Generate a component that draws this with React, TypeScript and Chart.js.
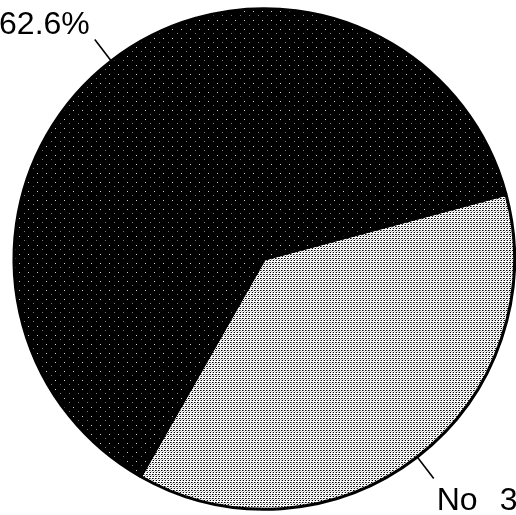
import React, { useEffect, useRef } from "react";
import { Chart, registerables } from "chart.js";

Chart.register(...registerables);

const categories = ["No", "Yes"];
const percentValues = [37.4, 62.6];
const sliceColors = ["#c4c4c4", "#080808"];

function makePattern(kind: "light" | "dark"): CanvasPattern | string {
  const c = document.createElement("canvas");
  const w = kind === "light" ? 3 : 9;
  const h = kind === "light" ? 4 : 9;
  c.width = w;
  c.height = h;
  const ctx = c.getContext("2d");
  if (!ctx) return kind === "light" ? sliceColors[0] : sliceColors[1];
  if (kind === "light") {
    ctx.fillStyle = "#ffffff";
    ctx.fillRect(0, 0, w, h);
    ctx.fillStyle = "#000000";
    ctx.fillRect(0, 0, 1, 1);
    ctx.fillRect(2, 2, 1, 1);
    ctx.fillStyle = "#bbbbbb";
    ctx.fillRect(2, 0, 1, 1);
    ctx.fillRect(1, 3, 1, 1);
    ctx.fillStyle = "#777777";
    ctx.fillRect(0, 2, 1, 1);
  } else {
    ctx.fillStyle = "#000000";
    ctx.fillRect(0, 0, w, h);
    ctx.fillStyle = "#cfcfcf";
    ctx.fillRect(1, 2, 1, 1);
    ctx.fillStyle = "#777777";
    ctx.fillRect(6, 6, 1, 1);
  }
  const p = ctx.createPattern(c, "repeat");
  return p ?? (kind === "light" ? sliceColors[0] : sliceColors[1]);
}

const labelPlugin = {
  id: "leaderLabels",
  afterDraw(chart: any) {
    const ctx = chart.ctx as CanvasRenderingContext2D;
    const meta = chart.getDatasetMeta(0);
    ctx.save();
    ctx.font = '32px "Liberation Sans", Arial, sans-serif';
    ctx.fillStyle = "#000";
    ctx.strokeStyle = "#000";
    ctx.lineWidth = 1.6;
    meta.data.forEach((arc: any, i: number) => {
      const { x, y, startAngle, endAngle, outerRadius } = arc.getProps(
        ["x", "y", "startAngle", "endAngle", "outerRadius"],
        true
      );
      const mid = (startAngle + endAngle) / 2;
      const cos = Math.cos(mid);
      const sin = Math.sin(mid);
      const r0 = outerRadius + 1;
      const r1 = outerRadius + 27;
      const x0 = x + cos * r0;
      const y0 = y + sin * r0;
      const x1 = x + cos * r1;
      const y1 = y + sin * r1;
      ctx.beginPath();
      ctx.moveTo(x0, y0);
      ctx.lineTo(x1, y1);
      ctx.stroke();
      const name = categories[i];
      const val = percentValues[i].toFixed(1) + "%";
      const gap = 22;
      ctx.textBaseline = "alphabetic";
      if (cos >= 0) {
        const tx = x1 + 3;
        const ty = y1 + 32;
        ctx.textAlign = "left";
        ctx.fillText(name, tx, ty);
        const w = ctx.measureText(name).width;
        ctx.fillText(val, tx + w + gap, ty);
      } else {
        const tx = x1 - 5;
        const ty = y1 - 6;
        ctx.textAlign = "right";
        ctx.fillText(val, tx, ty);
        const w = ctx.measureText(val).width;
        ctx.fillText(name, tx - w - gap, ty);
      }
    });
    ctx.restore();
  },
};

export default function App() {
  const ref = useRef<HTMLCanvasElement | null>(null);
  useEffect(() => {
    if (!ref.current) return;
    const chart = new Chart(ref.current, {
      type: "pie",
      data: {
        labels: categories,
        datasets: [
          {
            data: percentValues,
            backgroundColor: [makePattern("light"), makePattern("dark")] as any,
            borderColor: "#000000",
            borderWidth: 3,
            borderAlign: "center",
          },
        ],
      },
      options: {
        responsive: false,
        animation: false,
        rotation: 75,
        layout: { padding: { left: 12.5, right: -1.5, top: 6.5, bottom: 3.5 } },
        plugins: {
          legend: { display: false },
          tooltip: { enabled: false },
        },
      },
      plugins: [labelPlugin],
    });
    return () => chart.destroy();
  }, []);
  return (
    <div style={{ position: "absolute", left: 0, top: 0, width: 516, height: 515, background: "#fff" }}>
      <canvas ref={ref} width={516} height={515} style={{ display: "block" }} />
    </div>
  );
}
